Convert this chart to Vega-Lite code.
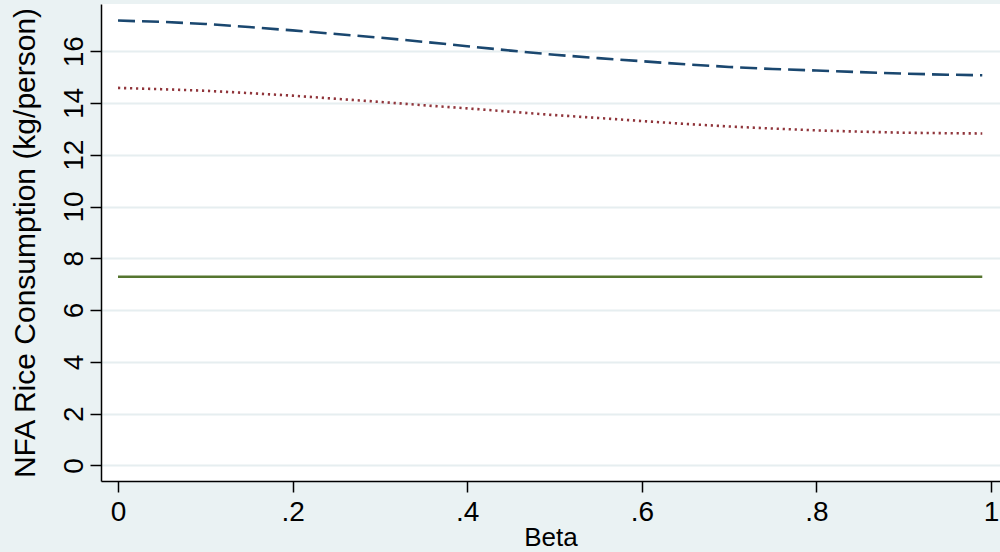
{
  "$schema": "https://vega.github.io/schema/vega-lite/v6.json",
  "autosize": "none",
  "width": 899,
  "height": 477,
  "padding": {"left": 101, "top": 4, "right": 0, "bottom": 71},
  "background": "#EAF2F3",
  "view": {"fill": "white", "stroke": null},
  "config": {"font": "Liberation Sans"},
  "data": {"values": [
    {"beta": 0, "s": "a", "v": 17.18}, {"beta": 0.05, "s": "a", "v": 17.13}, {"beta": 0.1, "s": "a", "v": 17.05}, {"beta": 0.15, "s": "a", "v": 16.93}, {"beta": 0.2, "s": "a", "v": 16.8}, {"beta": 0.25, "s": "a", "v": 16.66}, {"beta": 0.3, "s": "a", "v": 16.52}, {"beta": 0.35, "s": "a", "v": 16.36}, {"beta": 0.4, "s": "a", "v": 16.19}, {"beta": 0.45, "s": "a", "v": 16.02}, {"beta": 0.5, "s": "a", "v": 15.86}, {"beta": 0.55, "s": "a", "v": 15.73}, {"beta": 0.6, "s": "a", "v": 15.61}, {"beta": 0.65, "s": "a", "v": 15.49}, {"beta": 0.7, "s": "a", "v": 15.39}, {"beta": 0.75, "s": "a", "v": 15.31}, {"beta": 0.8, "s": "a", "v": 15.25}, {"beta": 0.85, "s": "a", "v": 15.19}, {"beta": 0.9, "s": "a", "v": 15.13}, {"beta": 0.95, "s": "a", "v": 15.09}, {"beta": 0.99, "s": "a", "v": 15.07},
    {"beta": 0, "s": "b", "v": 14.58}, {"beta": 0.05, "s": "b", "v": 14.53}, {"beta": 0.1, "s": "b", "v": 14.47}, {"beta": 0.15, "s": "b", "v": 14.38}, {"beta": 0.2, "s": "b", "v": 14.28}, {"beta": 0.25, "s": "b", "v": 14.16}, {"beta": 0.3, "s": "b", "v": 14.04}, {"beta": 0.35, "s": "b", "v": 13.91}, {"beta": 0.4, "s": "b", "v": 13.79}, {"beta": 0.45, "s": "b", "v": 13.66}, {"beta": 0.5, "s": "b", "v": 13.53}, {"beta": 0.55, "s": "b", "v": 13.42}, {"beta": 0.6, "s": "b", "v": 13.3}, {"beta": 0.65, "s": "b", "v": 13.19}, {"beta": 0.7, "s": "b", "v": 13.09}, {"beta": 0.75, "s": "b", "v": 13.01}, {"beta": 0.8, "s": "b", "v": 12.94}, {"beta": 0.85, "s": "b", "v": 12.89}, {"beta": 0.9, "s": "b", "v": 12.85}, {"beta": 0.95, "s": "b", "v": 12.83}, {"beta": 0.99, "s": "b", "v": 12.82},
    {"beta": 0, "s": "c", "v": 7.29}, {"beta": 0.5, "s": "c", "v": 7.29}, {"beta": 0.99, "s": "c", "v": 7.29}
  ]},
  "mark": {"type": "line", "strokeWidth": 2.6, "clip": true},
  "encoding": {
    "x": {
      "field": "beta", "type": "quantitative",
      "scale": {"domain": [-0.0195, 1.0103], "nice": false, "zero": false},
      "axis": {
        "title": "Beta", "titleFontSize": 26, "titleFontWeight": "normal", "titleColor": "black", "titlePadding": -2,
        "values": [0, 0.2, 0.4, 0.6, 0.8, 1],
        "labelExpr": "datum.value == 0 ? '0' : datum.value == 1 ? '1' : '.' + round(datum.value * 10)",
        "labelFontSize": 28, "labelColor": "black", "labelPadding": 6,
        "grid": false, "domainColor": "black", "domainWidth": 1.5,
        "tickColor": "black", "tickSize": 11, "tickWidth": 1.5
      }
    },
    "y": {
      "field": "v", "type": "quantitative",
      "scale": {"domain": [-0.6, 17.82], "nice": false, "zero": false},
      "axis": {
        "title": "NFA Rice Consumption (kg/person)", "titleFontSize": 30, "titleFontWeight": "normal", "titleColor": "black", "titlePadding": 20,
        "values": [0, 2, 4, 6, 8, 10, 12, 14, 16],
        "labelFontSize": 28, "labelColor": "black", "labelAngle": -90, "labelAlign": "center", "labelBaseline": "bottom", "labelPadding": 2,
        "grid": true, "gridColor": "#E6EEF0", "gridWidth": 1.8,
        "domainColor": "black", "domainWidth": 1.5,
        "tickColor": "black", "tickSize": 11, "tickWidth": 1.5
      }
    },
    "color": {"field": "s", "type": "nominal", "scale": {"domain": ["a", "b", "c"], "range": ["#1a476f", "#90353b", "#55752f"]}, "legend": null},
    "strokeDash": {"field": "s", "type": "nominal", "scale": {"domain": ["a", "b", "c"], "range": [[17, 7], [2.2, 3.8], [1, 0]]}, "legend": null}
  }
}
